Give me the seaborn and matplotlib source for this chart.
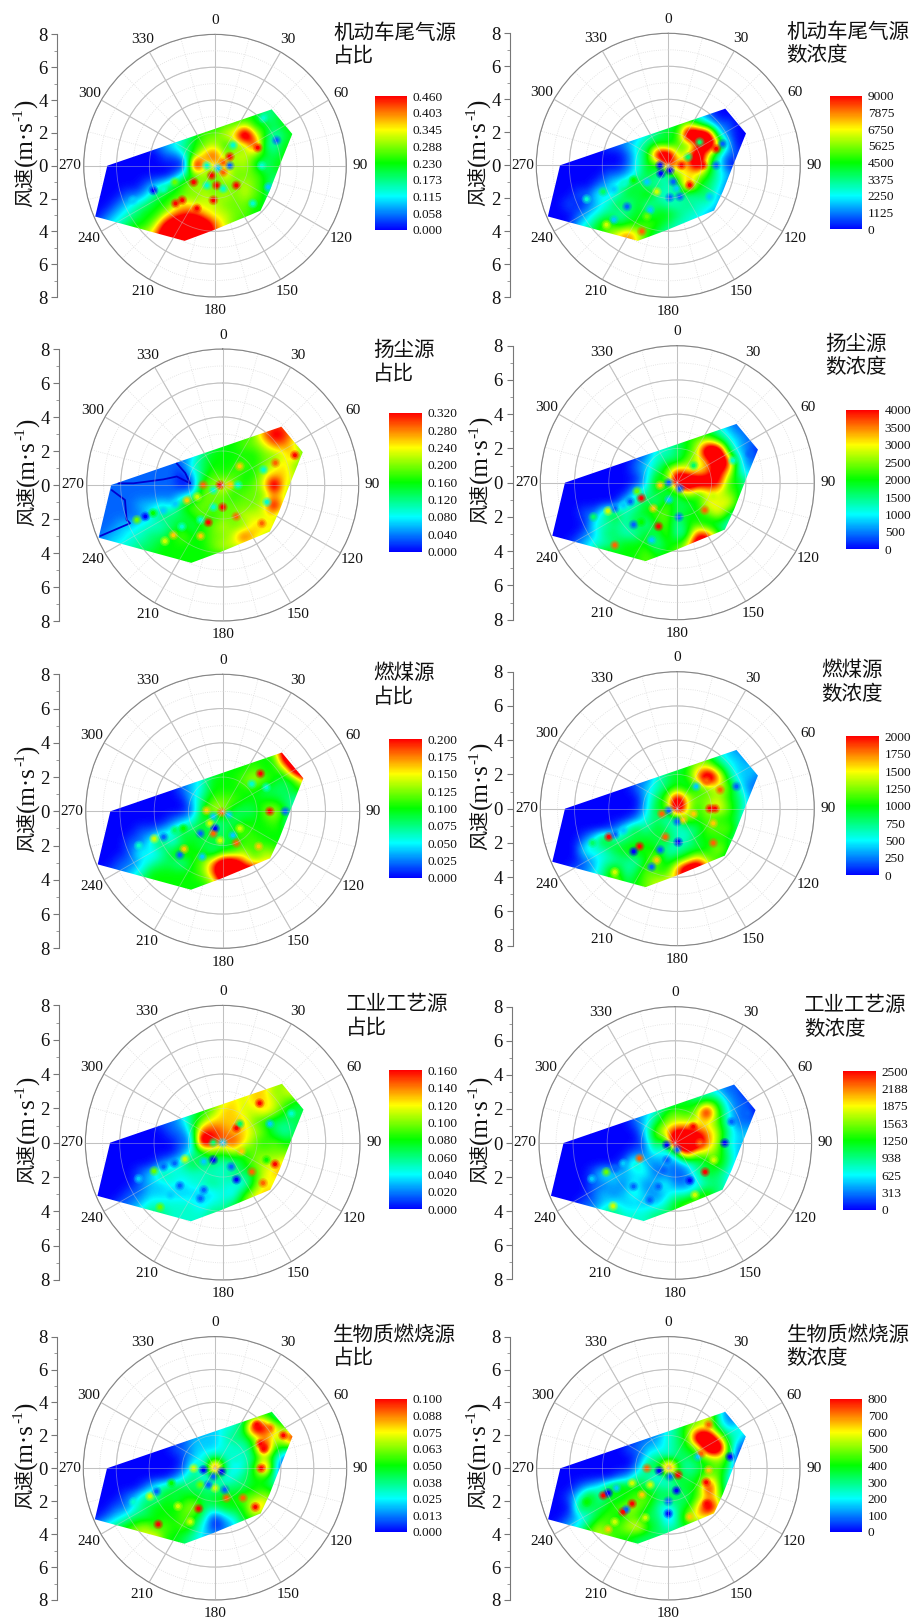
import numpy as np
import matplotlib
matplotlib.use("Agg")
import matplotlib.pyplot as plt
from matplotlib.patches import Polygon
import seaborn as sns

# --- Configuration ---
W, H = 914, 1620
sns.set_style("white")
plt.rcParams['font.family'] = ['Liberation Serif', 'Noto Sans CJK SC']

rainbow = sns.blend_palette(['#0000ff', '#00ffff', '#00ff00', '#ffff00', '#ff0000'], n_colors=256, as_cmap=True)

# sample positions of the field, in wind speed components (m/s)
grid_x = [-7.8, -7.2, -6.6, -6.0, -5.4, -4.8, -4.2, -3.6, -3.0, -2.4, -1.8, -1.2, -0.6, 0.0, 0.6, 1.2, 1.8, 2.4, 3.0, 3.6, 4.2, 4.8, 5.4]
grid_y = [3.6, 3.0, 2.4, 1.8, 1.2, 0.6, 0.0, -0.6, -1.2, -1.8, -2.4, -3.0, -3.6, -4.2, -4.8]

# outline of the measured region: direction (deg), speed (m/s)
hull_dir = [45.2, 67.7, 90, 115.6, 134.6, 181, 202, 247, 270]
hull_speed = [4.87, 5.09, 3.93, 3.67, 3.9, 3.92, 4.94, 7.93, 6.56]

dir_ticks = [0, 30, 60, 90, 120, 150, 180, 210, 240, 270, 300, 330]

# field values in tenths of each colour scale (above 10 is off the scale, shown red)
motor_share = [
    [0,0,0,0,0,0,0,0,1,2,3,4,5,5,5,5,5,5,4,4,5,5,5],
    [0,0,0,0,0,0,0,0,1,2,3,4,5,5,5,5,5,5,3,4,5,5,5],
    [0,0,0,0,0,0,0,0,1,2,3,4,5,5,6,6,7,5,5,4,5,5,5],
    [0,0,0,0,0,0,0,0,1,2,3,5,6,6,7,8,14,8,5,3,4,5,5],
    [0,0,0,0,0,0,0,1,2,3,4,5,6,7,5,6,6,11,4,3,5,5,5],
    [0,0,0,0,0,0,0,0,1,1,3,6,9,10,6,7,7,6,5,4,5,5,5],
    [0,0,0,0,0,0,0,0,0,0,0,14,6,8,8,6,7,5,3,5,5,5,5],
    [0,0,0,0,0,0,0,0,0,1,4,5,7,5,8,6,6,6,5,4,5,5,5],
    [0,0,0,0,0,0,1,2,3,5,6,7,6,6,6,6,7,6,5,3,4,5,5],
    [0,0,0,0,1,1,2,4,5,5,6,6,7,6,7,6,7,6,5,3,5,5,5],
    [0,0,0,1,2,3,4,5,5,7,8,7,7,7,6,6,6,5,5,3,4,5,5],
    [0,0,1,2,3,4,5,5,7,9,10,10,8,7,7,6,6,5,5,4,4,5,5],
    [0,1,2,3,4,5,5,7,11,13,13,13,12,9,7,6,5,5,5,5,5,5,5],
    [1,2,3,4,5,6,7,9,13,14,14,14,13,9,8,6,5,5,5,5,5,5,5],
    [1,2,3,4,5,6,7,9,13,14,14,14,13,9,8,6,5,5,5,5,5,5,5],
]
motor_conc = [
    [0,0,0,0,0,0,0,0,0,1,1,2,3,3,4,4,2,1,0,0,0,0,0],
    [0,0,0,0,0,0,0,0,0,1,1,2,3,3,4,4,2,1,0,0,0,0,0],
    [0,0,0,0,0,0,0,0,0,1,1,2,4,4,5,7,5,3,1,1,0,0,0],
    [0,0,0,0,0,0,0,0,1,1,2,3,4,5,5,14,14,13,3,1,0,0,0],
    [0,0,0,0,0,0,0,1,1,2,3,4,5,4,6,5,9,14,8,2,0,0,0],
    [0,0,0,0,0,0,0,0,0,1,3,5,13,13,6,8,13,7,3,1,1,0,0],
    [0,0,0,0,0,0,0,0,0,1,3,5,5,11,8,9,13,6,3,0,0,0,0],
    [0,0,0,0,0,0,0,1,1,2,3,5,3,3,7,7,7,5,3,2,1,0,0],
    [0,0,0,0,0,0,1,2,3,4,5,3,4,3,4,11,5,4,3,1,0,0,0],
    [0,0,0,0,1,1,3,2,3,5,4,6,3,3,4,3,4,4,2,1,0,0,0],
    [0,0,0,1,0,1,2,3,5,3,5,3,4,3,3,4,3,3,2,1,0,0,0],
    [0,0,0,0,1,2,3,4,3,4,5,4,5,5,4,3,3,2,1,0,0,0,0],
    [0,0,0,0,2,3,5,6,4,5,5,6,5,4,3,3,2,1,0,0,0,0,0],
    [0,0,0,2,3,4,5,6,8,9,7,5,4,3,3,2,1,0,0,0,0,0,0],
    [0,0,0,2,3,4,5,6,8,9,7,5,4,3,3,2,1,0,0,0,0,0,0],
]
dust_share = [
    [0,0,0,0,0,0,0,0,1,1,2,3,4,4,5,5,6,8,9,9,8,6,5],
    [1,1,1,1,1,1,1,1,1,2,2,3,4,4,5,5,6,9,11,10,8,6,5],
    [1,1,1,1,1,1,1,1,1,2,2,3,4,5,5,6,6,7,9,9,7,6,5],
    [1,1,1,1,1,1,1,1,1,1,2,4,5,5,5,5,5,6,6,7,9,5,5],
    [1,1,1,1,1,1,1,1,1,1,3,4,5,5,5,6,5,6,7,8,6,6,6],
    [1,1,1,1,1,1,1,1,1,0,2,4,6,5,6,5,5,7,8,8,7,6,6],
    [1,1,1,1,1,1,1,1,1,0,0,6,6,8,6,5,6,7,13,7,7,6,6],
    [1,1,1,1,1,1,1,1,1,2,3,6,6,6,5,6,6,6,8,7,7,6,6],
    [1,1,1,1,1,2,2,3,2,5,6,6,6,6,6,6,6,7,12,7,6,6,6],
    [1,1,1,1,1,1,3,4,4,4,5,6,5,6,6,7,7,7,7,6,6,6,6],
    [1,1,1,2,2,3,3,3,4,5,4,5,6,7,6,6,8,8,8,6,6,6,6],
    [1,1,2,2,3,3,4,4,5,6,5,5,6,6,7,10,8,7,6,6,6,6,6],
    [2,2,2,3,3,4,4,5,5,5,5,5,6,7,7,7,7,6,6,6,6,6,6],
    [2,2,3,3,4,4,5,5,5,5,5,5,5,5,5,5,5,5,5,5,5,5,5],
    [2,2,3,3,4,4,5,5,5,5,5,5,5,5,5,5,5,5,5,5,5,5,5],
]
dust_conc = [
    [0,0,0,0,0,0,0,0,0,0,1,1,2,4,5,5,4,3,1,1,1,1,1],
    [0,0,0,0,0,0,0,0,0,0,1,1,2,4,5,5,4,3,2,1,1,1,1],
    [0,0,0,0,0,0,0,0,0,0,1,2,3,4,5,6,7,5,3,2,1,1,1],
    [0,0,0,0,0,0,0,0,0,0,1,3,3,4,5,7,14,14,4,2,1,0,1],
    [0,0,0,0,0,0,0,0,0,1,2,3,4,4,6,7,8,14,10,3,1,1,1],
    [0,0,0,0,0,0,0,0,0,1,2,4,6,10,8,7,9,11,8,3,2,2,2],
    [0,0,0,0,0,0,0,0,0,0,2,6,4,14,14,13,12,11,5,5,3,3,2],
    [0,0,0,0,0,0,0,0,0,3,3,5,4,4,8,5,7,7,6,5,3,3,2],
    [0,0,0,0,0,0,0,0,3,3,5,3,6,4,4,5,8,7,8,5,2,2,2],
    [0,0,0,0,1,1,4,5,3,4,5,6,6,4,5,5,6,8,5,3,1,1,1],
    [0,0,0,0,0,3,3,4,3,5,3,5,6,3,5,5,4,4,3,2,1,1,1],
    [0,0,0,0,1,2,4,4,3,3,5,4,6,3,4,10,9,5,3,1,1,1,1],
    [0,0,0,1,2,3,3,4,5,5,5,3,5,5,7,13,13,7,5,3,3,3,3],
    [0,0,0,1,2,4,6,5,5,5,6,5,5,6,8,9,8,6,5,3,3,3,3],
    [0,0,0,1,2,4,6,5,5,5,6,5,5,6,8,9,8,6,5,3,3,3,3],
]
coal_share = [
    [0,0,0,0,0,0,0,0,0,1,2,3,4,4,5,5,5,5,7,12,13,13,13],
    [0,0,0,0,0,0,0,0,0,1,2,3,4,4,5,5,5,5,5,12,13,14,14],
    [0,0,0,0,0,0,0,0,0,1,2,3,4,5,5,5,6,5,5,6,13,14,14],
    [0,0,0,0,0,0,0,0,0,1,2,3,5,5,5,6,7,6,5,4,5,9,10],
    [0,0,0,0,0,0,0,0,0,1,2,3,5,5,5,5,5,4,4,4,5,5,5],
    [0,0,0,0,0,0,0,0,0,0,2,4,6,6,6,5,5,5,5,4,3,3,3],
    [0,0,0,0,0,0,0,0,0,0,1,5,7,7,4,4,4,6,7,5,3,3,3],
    [0,0,0,0,0,0,0,0,1,2,3,5,3,4,4,5,5,5,6,4,3,3,3],
    [0,0,0,0,0,1,1,2,3,5,4,5,4,4,5,6,5,5,5,5,3,3,3],
    [0,0,0,0,1,1,3,5,2,4,5,4,5,4,5,5,6,5,5,5,4,4,4],
    [0,0,0,0,1,3,2,3,5,6,5,5,3,5,5,7,5,7,6,5,5,5,5],
    [0,0,0,1,1,2,3,4,4,3,5,6,9,13,13,9,7,7,8,10,11,11,11],
    [0,0,1,1,2,3,5,5,5,5,5,6,9,14,14,13,13,14,14,14,14,14,14],
    [1,1,2,2,3,4,5,5,5,5,5,5,6,10,14,14,14,14,14,14,14,14,14],
    [1,1,2,2,3,4,5,5,5,5,5,5,6,10,14,14,14,14,14,14,14,14,14],
]
coal_conc = [
    [0,0,0,0,0,0,0,0,0,0,1,2,3,4,5,5,5,3,2,1,1,1,2],
    [0,0,0,0,0,0,0,0,0,0,1,2,3,4,5,6,5,3,2,2,1,2,2],
    [0,0,0,0,0,0,0,0,0,0,1,2,4,4,5,7,7,5,3,2,2,2,2],
    [0,0,0,0,0,0,0,0,0,1,1,3,4,5,5,9,14,9,4,2,2,1,1],
    [0,0,0,0,0,0,0,0,0,1,2,3,4,5,4,5,6,7,6,3,1,1,1],
    [0,0,0,0,0,0,0,0,0,0,2,4,6,12,7,6,6,7,5,4,2,1,1],
    [0,0,0,0,0,0,0,0,0,0,2,5,5,15,7,5,7,8,6,4,2,0,0],
    [0,0,0,0,0,0,0,0,0,1,3,4,3,3,7,5,6,5,5,4,1,0,0],
    [0,0,0,0,0,0,0,1,3,5,3,5,4,3,3,4,6,6,6,4,1,0,0],
    [0,0,0,0,1,3,6,3,4,4,5,4,5,3,3,5,5,5,5,3,1,0,0],
    [0,0,0,0,3,3,3,5,5,6,5,5,3,3,4,4,5,7,5,3,1,1,1],
    [0,0,0,0,1,2,3,3,4,3,5,7,4,5,6,9,6,5,4,2,1,1,1],
    [0,0,0,1,1,2,4,6,3,4,6,5,5,9,14,14,9,7,5,4,4,4,4],
    [0,0,1,1,2,3,4,7,4,5,6,7,7,8,9,9,8,6,5,4,4,4,4],
    [0,0,1,1,2,3,4,7,4,5,6,7,7,8,9,9,8,6,5,4,4,4,4],
]
industry_share = [
    [0,0,0,0,0,0,0,0,0,1,3,5,6,7,7,7,7,8,7,6,6,5,5],
    [0,0,0,0,0,0,0,0,0,1,3,5,6,7,7,7,8,8,6,7,8,6,5],
    [0,0,0,0,0,0,0,0,0,2,3,5,6,7,8,7,8,8,7,6,5,5,5],
    [0,0,0,0,0,0,0,0,1,2,4,5,6,8,8,7,7,8,7,5,4,4,5],
    [0,0,0,0,0,0,0,1,1,2,4,6,8,8,8,8,6,5,4,4,4,5,5],
    [0,0,0,0,0,0,0,0,1,1,3,10,10,9,8,8,7,6,4,3,4,5,5],
    [0,0,0,0,0,0,0,0,0,1,1,13,10,9,10,8,6,5,6,5,5,5,5],
    [0,0,0,0,0,0,0,0,0,1,3,4,6,5,7,5,6,6,6,6,6,6,6],
    [0,0,0,0,0,0,0,1,2,3,5,4,4,3,3,5,6,7,7,8,7,7,7],
    [0,0,0,0,0,1,2,4,3,3,3,3,3,3,4,4,5,7,8,9,8,7,7],
    [0,0,0,0,0,1,2,2,3,2,3,3,4,3,3,2,5,8,7,7,7,7,7],
    [0,0,0,0,1,1,2,2,2,2,2,2,2,3,2,5,7,8,8,7,7,7,7],
    [0,0,0,1,1,2,3,3,3,3,3,2,3,3,4,6,8,9,8,7,7,7,7],
    [0,1,1,2,2,3,4,4,3,3,3,3,4,4,5,6,7,7,7,7,7,7,7],
    [0,1,1,2,2,3,4,4,3,3,3,3,4,4,5,6,7,7,7,7,7,7,7],
]
industry_conc = [
    [0,0,0,0,0,0,0,0,0,0,1,2,3,4,4,3,3,2,1,1,0,0,0],
    [0,0,0,0,0,0,0,0,0,0,1,2,3,4,4,3,3,2,1,1,0,0,0],
    [0,0,0,0,0,0,0,0,0,0,1,2,3,4,5,4,5,5,2,1,1,0,0],
    [0,0,0,0,0,0,0,0,0,1,2,3,5,6,5,6,13,6,3,1,1,0,0],
    [0,0,0,0,0,0,0,0,0,1,2,4,6,7,7,7,7,6,3,1,1,1,1],
    [0,0,0,0,0,0,0,0,0,0,2,6,8,11,11,10,9,7,4,2,2,2,2],
    [0,0,0,0,0,0,0,0,0,0,1,5,3,15,15,14,9,7,3,2,2,2,2],
    [0,0,0,0,0,0,0,0,0,1,1,3,2,3,11,6,7,6,4,2,1,1,1],
    [0,0,0,0,0,0,0,0,1,4,2,1,2,1,2,4,4,6,4,2,1,1,1],
    [0,0,0,0,0,1,3,2,2,2,3,1,1,1,1,3,5,4,3,1,0,0,0],
    [0,0,0,0,0,1,1,2,1,3,1,2,3,1,1,2,3,4,3,1,0,0,0],
    [0,0,0,0,0,1,2,1,2,3,2,1,2,3,3,4,6,4,3,1,0,0,0],
    [0,0,0,0,1,1,2,3,2,2,2,2,3,5,6,7,5,4,3,2,2,2,2],
    [0,0,0,0,1,2,4,4,3,3,3,4,4,5,5,5,4,3,2,2,2,2,2],
    [0,0,0,0,1,2,4,4,3,3,3,4,4,5,5,5,4,3,2,2,2,2,2],
]
biomass_share = [
    [0,0,0,0,0,0,0,0,0,0,1,1,2,2,2,3,4,5,5,4,3,2,2],
    [0,0,0,0,0,0,0,0,0,0,1,1,2,2,2,3,4,6,6,4,3,3,2],
    [0,0,0,0,0,0,0,0,0,0,1,1,2,2,3,3,5,13,11,8,6,5,3],
    [0,0,0,0,0,0,0,0,0,0,1,2,2,2,3,4,4,6,8,7,8,13,8],
    [0,0,0,0,0,0,0,0,0,1,1,2,2,2,3,3,3,5,14,5,5,4,3],
    [0,0,0,0,0,0,0,0,0,0,1,2,3,4,3,3,3,4,6,4,1,0,1],
    [0,0,0,0,0,0,0,0,0,0,1,4,2,14,4,2,3,5,12,3,0,0,0],
    [0,0,0,0,0,0,0,0,0,1,3,4,2,4,2,3,4,5,5,3,1,0,0],
    [0,0,0,0,0,0,1,3,4,5,4,4,4,3,4,4,4,5,5,4,3,3,3],
    [0,0,0,0,1,2,4,3,5,4,5,5,4,5,5,5,6,6,7,6,5,5,5],
    [0,0,0,1,1,3,4,5,5,5,6,7,4,4,5,5,5,9,8,5,5,5,5],
    [0,0,1,2,3,4,4,5,5,5,6,5,3,0,2,3,5,6,5,5,5,5,5],
    [1,2,3,4,5,6,7,5,6,5,6,4,2,0,1,2,4,4,5,5,5,5,5],
    [2,3,4,5,6,7,7,8,5,5,4,3,2,2,2,3,4,4,4,4,4,4,4],
    [2,3,4,5,6,7,7,8,5,5,4,3,2,2,2,3,4,4,4,4,4,4,4],
]
biomass_conc = [
    [0,0,0,0,0,0,0,0,0,0,0,1,1,2,4,5,6,7,3,1,1,0,0],
    [0,0,0,0,0,0,0,0,0,0,0,1,1,2,4,5,6,8,3,1,1,0,1],
    [0,0,0,0,0,0,0,0,0,0,0,1,1,3,4,6,7,7,4,2,3,3,3],
    [0,0,0,0,0,0,0,0,0,0,1,1,2,3,4,6,14,14,8,4,3,1,2],
    [0,0,0,0,0,0,0,0,0,1,1,2,2,3,4,5,6,14,14,5,1,0,0],
    [0,0,0,0,0,0,0,0,0,0,1,3,4,3,4,4,5,6,7,5,0,0,0],
    [0,0,0,0,0,0,0,0,0,0,2,5,4,14,4,3,4,5,6,4,0,0,0],
    [0,0,0,0,0,0,0,0,1,2,4,3,2,3,5,4,5,7,6,3,0,0,0],
    [0,0,0,0,1,2,3,5,6,5,5,4,4,3,4,5,5,12,6,3,1,0,0],
    [0,0,0,1,3,6,3,5,4,5,6,6,4,5,4,4,6,8,7,3,2,2,2],
    [0,0,0,0,5,4,4,5,6,7,6,5,3,2,4,5,8,13,8,4,3,3,3],
    [0,0,0,1,2,3,5,6,4,6,5,4,4,1,4,7,8,7,5,5,5,5,5],
    [0,0,1,2,3,5,7,5,6,7,8,5,4,3,4,5,5,5,5,5,5,5,5],
    [1,1,2,3,4,6,7,6,5,5,4,4,4,4,4,4,4,4,4,4,4,4,4],
    [1,1,2,3,4,6,7,6,5,5,4,4,4,4,4,4,4,4,4,4,4,4,4],
]

# small local spots on top of the field: x, y (m/s components), level in tenths
motor_share_spots = [(-5,-2.1,2),(-3.75,-1.5,0),(-3.15,-1.4,3),(-2.45,-1,6),(-1.3,-1,10),(-.5,0,3),(.2,-.15,2),(.9,0,1),(-.5,-1.2,3),(.1,-1.2,10),(.5,-1.4,3),(1.3,-1.2,10),(-2.4,-2.3,10),(-2,-2.1,10),(-1.1,-2.6,10),(-.1,-2.1,10),(1.1,1.25,3),(.9,.55,10),(2.6,1.1,10),(2.95,2.9,3),(3.75,1.55,1),(2.85,0,3),(3.25,-1.3,2),(2.3,-2.3,3),(.5,-.4,9),(-.2,-.6,10),(.5,.2,9)]
motor_conc_spots = [(-.5,0,0),(-.45,-.5,0),(.1,-.3,0),(.1,-1.95,1),(.7,-1.9,1),(1.3,-1.2,10),(.8,0,10),(2.1,0,10),(-2.5,-2.5,1),(-4.95,-2.05,3),(-3.95,-1.6,4),(-3.3,-1.45,2),(-2.7,-1.1,3),(-2.1,-.9,5),(-.7,-1.6,7),(-1.3,-1,2),(-1.1,-2.7,2),(-1.3,-3.1,6),(-3.3,-3.3,2),(-3.75,-3.6,7),(-1.6,-4,9),(.5,-1.4,2),(.3,-1,1),(2.9,0,1),(3.3,1.3,1),(2.5,-1.9,2),(2.9,1,10),(1.2,.5,4),(1.9,1.4,4)]
dust_share_spots = [(-4.55,-1.85,0),(-5.05,-2.05,6),(-4.1,-1.65,5),(-3.5,-1.5,2),(-2.8,-1.1,2),(-2.1,-.9,8),(-1.5,-.7,7),(-1.15,0,9),(-.15,0,10),(-.55,-.3,3),(.45,0,8),(.9,0,3),(1,1.1,8),(2.4,.9,3),(3.1,1.3,9),(4.25,1.75,10),(2.6,-1,3),(-.85,-2.2,10),(.8,-1.85,9),(2.3,-2.25,9),(-2.4,-2.45,3),(-2.9,-2.95,8),(-1.3,-3,8),(-3.4,-3.3,7),(0,-1.3,10),(-.55,-1.3,3),(-1.3,-2.05,3)]
dust_conc_spots = [(-4.9,-2,4),(-4.05,-1.65,7),(-3.65,-1.5,1),(-3.15,-1.3,2),(-2.75,-1.1,1),(-2.1,-.9,10),(-2.35,-.5,6),(-2.55,-2.45,1),(-3.65,-3.65,9),(-1.5,-3.35,2),(-1.1,-2.55,10),(.1,-2,1),(-.5,0,1),(-.5,-1,2),(.15,-.35,1),(-1,-.15,8),(4.25,1.7,1),(3.25,1.3,3),(.95,1,4),(2.1,-.8,7),(1.6,-1.6,9),(-2.1,-2.3,5),(-1.4,-1.5,8)]
coal_share_spots = [(-4.9,-2,3),(-4,-1.6,7),(-3.45,-1.5,1),(-2.8,-1.1,4),(-2.3,-1,5),(-2.5,-2.55,1),(-2.25,-2.2,8),(-.95,.05,8),(-.05,-.05,9),(.35,-.2,2),(-.55,-.3,2),(-.75,-.7,7),(-.45,-1,0),(-1.3,-1.3,1),(-.55,-1.3,9),(.6,-1.4,2),(1,-1,7),(.8,-1.85,9),(2.1,-2.05,8),(2.2,2.2,10),(2.75,0,10),(1.7,1.6,3),(2.55,1.4,3),(3.65,0,1),(-.15,-1.7,7),(-1.2,-2.65,2)]
coal_conc_spots = [(-4.95,-2,4),(-4,-1.65,10),(-3.65,-1.5,1),(-3.15,-1.25,2),(-2.2,-2.2,10),(-2.55,-2.5,0),(-1,-2.4,1),(-1.2,-3,8),(-3.65,-3.7,7),(-1.5,-3.4,1),(-.7,-1.65,9),(.05,-1.95,0),(-.9,-.3,9),(-.5,-.1,1),(0,-.75,1),(.35,-.65,8),(1.9,0,10),(2.2,0,10),(1.7,1.6,9),(2.5,1.1,9),(1.1,1.3,2),(2.1,-2,9),(3.45,1.3,1),(2.1,-.85,8),(.95,-.3,8)]
industry_share_spots = [(-2.2,-.95,7),(-2.8,-1.2,1),(-4,-1.65,6),(-3.45,-1.4,1),(-4.9,-2.1,2),(-.55,0,4),(0,0,2),(-.55,-1,0),(-1.1,-1.1,2),(-2.5,-2.5,1),(-1.1,-2.75,1),(-1.3,-3.25,1),(-3.05,-3.05,2),(-3.65,-3.75,6),(.8,-2.15,0),(.5,-1.4,1),(1.7,-1.7,9),(3.05,-1.25,10),(2.35,-2.35,9),(2.75,1.1,2),(4,1.7,3),(.8,.85,10),(1,1.1,4),(-1,.25,10),(1.1,-.5,8),(2.55,-1,5),(2.15,2.3,10)]
industry_conc_spots = [(-2.1,-.9,9),(-4.05,-1.7,6),(-4.9,-2.1,2),(-3.55,-1.5,1),(-3.05,-1.2,2),(-3.65,-3.7,7),(-.5,-.1,0),(.1,-.4,1),(-.5,-1,1),(-.7,-1.6,1),(-1,-2.55,1),(-2.45,-2.55,1),(-1.5,-3.35,1),(.85,-2.2,0),(2.9,0,0),(1.75,-1.7,10),(2.25,-1,7),(1.05,.95,10),(3.3,1.25,1),(4.2,1.75,1),(1.15,-3.05,7),(1.45,0,9)]
biomass_share_spots = [(-4.95,-2.05,3),(-3.95,-1.7,7),(-3.55,-1.4,1),(-2.65,-.9,5),(-1.3,0,7),(-.7,-.1,0),(.4,-.2,0),(-.1,-.5,1),(-1,-2.45,10),(-2.25,-2.3,7),(-3.45,-3.4,10),(.7,-1.8,9),(0,-1.2,7),(-.9,-1,6),(-.4,-1,1),(.6,-1.3,1),(1.7,-1.8,9),(2.45,-2.35,10),(.9,1.2,3),(1.3,.6,3),(2.75,1.5,10),(2.95,1.2,10),(2.55,2.65,10),(3.35,2.45,9),(4.15,2,10),(2.8,0,10),(-1.5,-3.25,7)]
biomass_conc_spots = [(-4.95,-2.05,5),(-3.95,-1.65,10),(-3.65,-1.5,0),(-3.15,-1.2,2),(-2.2,-.9,7),(-1.6,-1.6,8),(-2.2,-2.15,10),(-2.75,-2.65,10),(-2.55,-2.5,1),(-1.3,0,9),(-.55,-.15,0),(.6,-.4,10),(.1,-.5,1),(-1.1,-1,7),(.5,-1.35,0),(0,-2,1),(0,-2.75,0),(-1.4,-3,7),(-3.25,-3.25,7),(-3.65,-3.7,8),(2.45,2.65,9),(2.35,-2.15,10),(2.3,-.85,10),(1.3,-2.95,8),(1.8,.7,2),(2,.9,9),(2.45,-.1,8),(3.75,.7,0)]

# dark zero contours that show in the dust share panel
dust_zero_a_x = [-6.14, -5.25, -4.47, -3.49, -2.7, -1.92]
dust_zero_a_y = [0.1, 0.1, 0.2, 0.33, 0.5, 0.1]
dust_zero_b_x = [-2.7, -2.2, -1.92]
dust_zero_b_y = [1.27, 0.7, 0.1]
dust_zero_c_x = [-6.53, -5.75, -5.65, -5.45, -7.2]
dust_zero_c_y = [-0.3, -0.88, -2.05, -2.25, -3.0]

share_ticks_motor = ['0.000', '0.058', '0.115', '0.173', '0.230', '0.288', '0.345', '0.403', '0.460']
conc_ticks_motor = ['0', '1125', '2250', '3375', '4500', '5625', '6750', '7875', '9000']
share_ticks_dust = ['0.000', '0.040', '0.080', '0.120', '0.160', '0.200', '0.240', '0.280', '0.320']
conc_ticks_dust = ['0', '500', '1000', '1500', '2000', '2500', '3000', '3500', '4000']
share_ticks_coal = ['0.000', '0.025', '0.050', '0.075', '0.100', '0.125', '0.150', '0.175', '0.200']
conc_ticks_coal = ['0', '250', '500', '750', '1000', '1250', '1500', '1750', '2000']
share_ticks_industry = ['0.000', '0.020', '0.040', '0.060', '0.080', '0.100', '0.120', '0.140', '0.160']
conc_ticks_industry = ['0', '313', '625', '938', '1250', '1563', '1875', '2188', '2500']
share_ticks_biomass = ['0.000', '0.013', '0.025', '0.038', '0.050', '0.063', '0.075', '0.088', '0.100']
conc_ticks_biomass = ['0', '100', '200', '300', '400', '500', '600', '700', '800']

# field, spots, tick labels, title lines, then pixel layout:
# centre x/y, radius, spine x, colourbar x0/x1/y0/y1, title x/y1/y2
panels = [
    (motor_share, motor_share_spots, share_ticks_motor, '机动车尾气源', '占比', 215, 165.7, 131.3, 57.3, 375, 407.3, 96.3, 229.7, 333, 33, 56),
    (motor_conc, motor_conc_spots, conc_ticks_motor, '机动车尾气源', '数浓度', 668.3, 165.3, 132, 510.3, 830, 862.3, 95.7, 229.3, 786.7, 32, 55),
    (dust_share, dust_share_spots, share_ticks_dust, '扬尘源', '占比', 222.7, 485, 136, 59.3, 388.7, 422.3, 412.7, 551.7, 373, 350, 374),
    (dust_conc, dust_conc_spots, conc_ticks_dust, '扬尘源', '数浓度', 677.3, 482.7, 137, 512.7, 845.7, 879.3, 410, 549.3, 825.7, 344, 367),
    (coal_share, coal_share_spots, share_ticks_coal, '燃煤源', '占比', 222.7, 811.3, 137, 59.3, 388.7, 422.3, 739, 877.7, 373, 672.7, 696.7),
    (coal_conc, coal_conc_spots, conc_ticks_coal, '燃煤源', '数浓度', 677.3, 808.7, 137, 512.7, 845.7, 879.3, 736.3, 875.3, 821, 670, 694),
    (industry_share, industry_share_spots, share_ticks_industry, '工业工艺源', '占比', 222.7, 1142.7, 137.3, 59.3, 388.7, 422.3, 1070.3, 1209.3, 346, 1004, 1028),
    (industry_conc, industry_conc_spots, conc_ticks_industry, '工业工艺源', '数浓度', 675.3, 1143, 136.3, 512.3, 842.7, 876.3, 1071, 1209.7, 804, 1005, 1029),
    (biomass_share, biomass_share_spots, share_ticks_biomass, '生物质燃烧源', '占比', 215, 1468.3, 131.7, 57.3, 375, 407.3, 1398.7, 1532, 333, 1335, 1358),
    (biomass_conc, biomass_conc_spots, conc_ticks_biomass, '生物质燃烧源', '数浓度', 668.3, 1468.3, 131.7, 510.3, 830, 862.3, 1398.7, 1532, 786.7, 1335, 1358),
]

CJK = ['Noto Sans CJK SC']
TEXT = '#111111'


def px_rect(x0, x1, y0, y1):
    return [x0 / W, 1 - y1 / H, (x1 - x0) / W, (y1 - y0) / H]


def draw_field(fig, rect, values, spots):
    ax = fig.add_axes(rect, zorder=2)
    ax.patch.set_alpha(0)
    dx = (grid_x[1] - grid_x[0]) / 2
    dy = (grid_y[0] - grid_y[1]) / 2
    extent = [grid_x[0] - dx, grid_x[-1] + dx, grid_y[-1] - dy, grid_y[0] + dy]
    im = ax.imshow(np.array(values, dtype=float) / 10, cmap=rainbow, vmin=0, vmax=1, extent=extent,
                   interpolation='bicubic', interpolation_stage='data', aspect='equal')
    ang = np.radians(hull_dir)
    speed = np.array(hull_speed)
    outline = Polygon(np.column_stack([speed * np.sin(ang), speed * np.cos(ang)]), closed=True,
                      transform=ax.transData, facecolor='none', edgecolor='none')
    ax.add_patch(outline)
    im.set_clip_path(outline)

    # layered dots give the spots a soft edge
    sx, sy, sv = zip(*spots)
    for size, alpha in [(52, 0.3), (26, 0.45), (8, 1.0)]:
        sns.scatterplot(x=list(sx), y=list(sy), hue=list(sv), palette=rainbow, hue_norm=(0, 10), s=size,
                        alpha=alpha, linewidth=0, legend=False, ax=ax)
    if values is dust_share:
        for lx, ly in [(dust_zero_a_x, dust_zero_a_y), (dust_zero_b_x, dust_zero_b_y), (dust_zero_c_x, dust_zero_c_y)]:
            ax.plot(lx, ly, color='#0000d0', lw=1.3)
    for artist in list(ax.collections) + list(ax.lines):
        artist.set_clip_path(outline)
    ax.set_xlim(-8, 8)
    ax.set_ylim(-8, 8)
    ax.axis('off')


def draw_polar_grid(fig, rect):
    # full grid and labels sit under the field
    ax = fig.add_axes(rect, projection='polar', zorder=1)
    ax.set_theta_zero_location('N')
    ax.set_theta_direction(-1)
    ax.set_rlim(0, 8)
    ax.set_thetagrids(dir_ticks, [str(d) for d in dir_ticks], fontsize=11, color=TEXT)
    ax.set_rticks([2, 4, 6, 8])
    ax.set_yticks([1, 3, 5, 7], minor=True)
    ax.set_xticks(np.radians(np.arange(15, 360, 30)), minor=True)
    ax.tick_params(axis='y', labelleft=False, length=0, which='both')
    ax.tick_params(axis='x', pad=3, length=0, which='both')
    ax.grid(which='major', color='#b8b8b8', lw=0.75, ls='-')
    ax.grid(which='minor', color='#dedede', lw=0.6, ls=':')
    ax.spines['polar'].set_color('#858585')
    ax.spines['polar'].set_linewidth(0.8)

    # only a faint trace of the main lines shows through the field
    over = fig.add_axes(rect, projection='polar', zorder=3)
    over.patch.set_alpha(0)
    over.set_theta_zero_location('N')
    over.set_theta_direction(-1)
    over.set_rlim(0, 8)
    over.set_thetagrids(dir_ticks, [''] * len(dir_ticks))
    over.set_rticks([2, 4, 6])
    over.tick_params(axis='both', labelleft=False, labelbottom=False, length=0)
    over.grid(which='major', color='#d0d0d0', lw=0.6, ls='-', alpha=0.45)
    over.spines['polar'].set_visible(False)


def draw_speed_axis(fig, spine_x, cy, R):
    ax = fig.add_axes(px_rect(spine_x, spine_x + 4, cy - R, cy + R), zorder=0)
    ax.set_ylim(-8, 8)
    ax.set_xticks([])
    ticks = [-8, -6, -4, -2, 0, 2, 4, 6, 8]
    ax.set_yticks(ticks, [str(abs(t)) for t in ticks], fontsize=13.5, color=TEXT)
    ax.set_yticks([-7, -5, -3, -1, 1, 3, 5, 7], minor=True)
    ax.tick_params(axis='y', which='major', left=True, length=4, width=0.8, color='#777777', pad=3)
    ax.tick_params(axis='y', which='minor', left=True, length=2.5, width=0.7, color='#999999')
    for name in ['top', 'right', 'bottom']:
        ax.spines[name].set_visible(False)
    ax.spines['left'].set_color('#777777')
    ax.spines['left'].set_linewidth(0.8)
    ax.patch.set_alpha(0)


def draw_speed_label(fig, spine_x, cy):
    # stacked bottom to top because the CJK and the superscript need their own sizes
    renderer = fig.canvas.get_renderer()
    x = (spine_x - 31) / W
    y = 1 - (cy + 41) / H
    pieces = [('风速', 14.5, CJK, 0.0), ('(m·s', 18, ['Liberation Serif'], 0.0),
              ('-1', 11, ['Liberation Serif'], -7 / W), (')', 18, ['Liberation Serif'], 0.0)]
    for txt, size, fam, shift in pieces:
        t = fig.text(x + shift, y, txt, rotation=90, ha='center', va='bottom', fontsize=size,
                     family=fam, color=TEXT)
        y += t.get_window_extent(renderer).height / H


def draw_colorbar(fig, rect, labels):
    ax = fig.add_axes(rect)
    n = 256
    strip = np.linspace(1, 0, n).reshape(-1, 1)
    sns.heatmap(strip, ax=ax, cmap=rainbow, vmin=0, vmax=1, cbar=False, xticklabels=False, yticklabels=False)
    pos = np.linspace(n, 0, len(labels))
    ax.yaxis.tick_right()
    ax.set_yticks(pos, labels, fontsize=9.6, color=TEXT, rotation=0)
    ax.tick_params(axis='y', length=0, pad=4)


fig = plt.figure(figsize=(W / 100, H / 100), dpi=100, facecolor='white')
fig.canvas.draw()

for values, spots, labels, line1, line2, cx, cy, R, spine_x, b0, b1, c0, c1, tx, ty1, ty2 in panels:
    rect = px_rect(cx - R, cx + R, cy - R, cy + R)
    draw_polar_grid(fig, rect)
    draw_field(fig, rect, values, spots)
    draw_speed_axis(fig, spine_x, cy, R)
    draw_speed_label(fig, spine_x, cy)
    draw_colorbar(fig, px_rect(b0, b1, c0, c1), labels)
    fig.text(tx / W, 1 - ty1 / H, line1, family=CJK, fontsize=14.8, va='center', ha='left', color=TEXT)
    fig.text(tx / W, 1 - ty2 / H, line2, family=CJK, fontsize=14.8, va='center', ha='left', color=TEXT)

fig.savefig('out.png', dpi=100)
